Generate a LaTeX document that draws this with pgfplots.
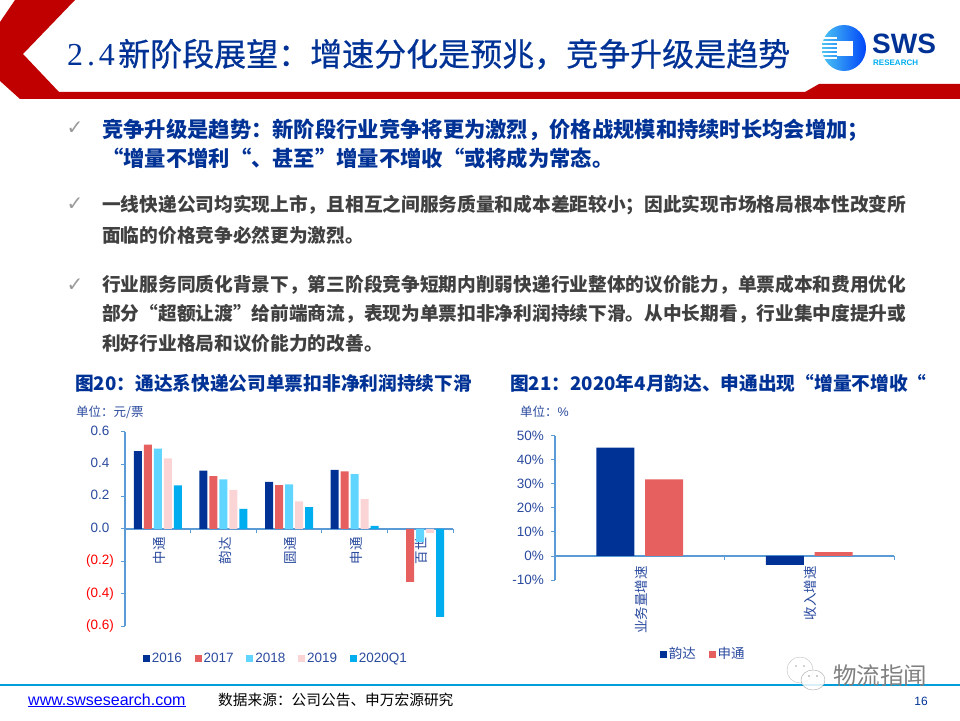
\documentclass[border=0pt]{standalone}
\usepackage{fontspec}
\usepackage{xcolor}
\usepackage{pgfplots}
\usepackage{pgfplotstable}
\usetikzlibrary{shadings}
\pgfplotsset{compat=1.18}
\setmainfont{Noto Sans CJK SC}
\newfontfamily\arial{Liberation Sans}
\newfontfamily\timesf[LetterSpace=12]{Liberation Serif}
\newfontfamily\titlef[FakeBold=0.6]{Noto Sans CJK SC}
\newfontfamily\dejavu{DejaVu Sans}
\definecolor{navy}{HTML}{003296}
\definecolor{redbar}{HTML}{E66060}
\definecolor{ltblue}{HTML}{5FD5FF}
\definecolor{pinkbar}{HTML}{FBD5D5}
\definecolor{cyanbar}{HTML}{00ADEF}
\definecolor{axisblue}{HTML}{5B9BD5}
\definecolor{ticktext}{HTML}{2A4A9E}
\definecolor{hdr}{HTML}{C00000}
\definecolor{foot}{HTML}{009FDB}
\definecolor{body}{HTML}{404040}

% unit net profit, yuan per parcel
\pgfplotstableread{
x a b c d e
0 0.48 0.52 0.495 0.435 0.268
1 0.36 0.325 0.305 0.24 0.124
2 0.29 0.27 0.274 0.17 0.134
3 0.365 0.355 0.338 0.183 0.019
4 nan -0.328 -0.08 -0.025 -0.544
}\unitprofit
\pgfplotstableread{
x a b
0 45 31.8
1 -3.7 1.6
}\growth

\newcommand{\fs}[1]{\fontsize{#1}{#1}\selectfont}
\pgfplotsset{
  slide/.style={
    scale only axis,
    anchor=south west,
    axis x line=middle,
    axis y line=left,
    axis line style={axisblue,line width=1.4pt,-},
    tick style={axisblue,line width=0.9pt},
    tick align=outside,
    major tick length=4pt,
    minor tick length=4pt,
    major x tick style={draw=none},
    tick label style={text=ticktext,font=\fs{13.5}},
    xticklabel style={rotate=90,anchor=east,inner sep=0pt,yshift=-1.5pt,xshift=-4pt},
    yticklabel style={inner sep=0pt,font=\arial\fs{13.5},xshift=-7pt},
    /pgf/number format/assume math mode=true,
    legend style={draw=none,fill=none,legend columns=-1,anchor=center,
      font=\fs{13.5},text=ticktext,inner sep=0pt,
      /tikz/every even column/.append style={column sep=10.7pt}},
    legend cell align=left,
    clip=false,
  },
  sq/.style={legend image code/.code={
    \fill[##1] (0pt,-3.5pt) rectangle (7pt,3.5pt);}},
}

\begin{document}
\begin{tikzpicture}[x=1pt,y=1pt]
\clip (0,0) rectangle (960,720);
\path[use as bounding box] (0,0) rectangle (960,720);
\begin{scope}[yshift=720pt,y=-1pt,every node/.style={inner sep=0pt}]
  % header band
  \fill[hdr] (15,0) -- (75,0) -- (23,54) -- (59,92) -- (805,92) -- (819,84)
    -- (960,84) -- (960,99) -- (20,99) -- (0,81) -- (0,22) -- cycle;
  \node[anchor=base west,text=navy] at (67,66) {\timesf\fs{32}2.4};
  \node[anchor=base west,text=navy] at (118,66) {\titlef\fs{32}新阶段展望：增速分化是预兆，竞争升级是趋势};
  % logo
  \shade[left color=cyanbar!70,right color=blue!60!cyanbar] (844,48) ellipse (22 and 23);
  \fill[white] (837,41) rectangle (853,56);
  \foreach \yy in {38,42,46,50,54,58}
    \draw[white,line width=1.2pt] (820,\yy) -- (837,\yy);
  \node[anchor=base west,text=navy] at (872,54) {\arial\bfseries\fs{28}SWS};
  \node[anchor=base west,text=cyanbar] at (873,66) {\arial\bfseries\fs{8}RESEARCH};
  % bullets
  \node[text=black!40] at (75,128) {\dejavu\fs{20}✓};
  \node[text=black!40] at (75,204) {\dejavu\fs{20}✓};
  \node[text=black!40] at (75,285) {\dejavu\fs{20}✓};
  \node[anchor=base west,text=navy] at (102,138) {\bfseries\fs{21.3}竞争升级是趋势：新阶段行业竞争将更为激烈，价格战规模和持续时长均会增加；};
  \node[anchor=base west,text=navy] at (102,167) {\bfseries\fs{21.3}“增量不增利“、甚至”增量不增收“或将成为常态。};
  \node[anchor=base west,text=body] at (102,212) {\bfseries\fs{18.7}一线快递公司均实现上市，且相互之间服务质量和成本差距较小；因此实现市场格局根本性改变所};
  \node[anchor=base west,text=body] at (102,243) {\bfseries\fs{18.7}面临的价格竞争必然更为激烈。};
  \node[anchor=base west,text=body] at (102,292) {\bfseries\fs{18.7}行业服务同质化背景下，第三阶段竞争短期内削弱快递行业整体的议价能力，单票成本和费用优化};
  \node[anchor=base west,text=body] at (102,321) {\bfseries\fs{18.7}部分“超额让渡”给前端商流，表现为单票扣非净利润持续下滑。从中长期看，行业集中度提升或};
  \node[anchor=base west,text=body] at (102,351) {\bfseries\fs{18.7}利好行业格局和议价能力的改善。};
  % chart titles
  \node[anchor=base west,text=navy] at (75,391) {\bfseries\fs{18.7}图20：通达系快递公司单票扣非净利润持续下滑};
  \node[anchor=base west,text=navy] at (510,391) {\bfseries\fs{18.7}图21：2020年4月韵达、申通出现“增量不增收“};
  \node[anchor=base west,text=ticktext] at (76,417) {\fs{12.5}单位：元/票};
  \node[anchor=base west,text=ticktext] at (520,417) {\fs{12.5}单位：\arial\%};
  % footer
  \draw[foot,line width=2.5pt] (0,685) -- (960,685);
  \node[anchor=base west,text=blue] at (28,705) {\arial\fs{16}\underline{www.swsesearch.com}};
  \node[anchor=base west,text=black] at (218,705) {\fs{14.7}数据来源：公司公告、申万宏源研究};
  \node[anchor=base east,text=navy] at (928,705) {\arial\fs{12}16};
  % watermark
  \draw[black!25,fill=white] (800,670) ellipse (13 and 13);
  \fill[black!35] (796,666) circle (0.9) (804,666) circle (0.9);
  \draw[black!35,fill=white,fill opacity=0.85] (813,680) ellipse (12 and 10);
  \fill[black!40] (809,676) circle (0.9) (817,676) circle (0.9);
  \node[anchor=base west,text=black!50] at (833,684) {\fs{23.5}物流指闻};
\end{scope}

\begin{axis}[slide,
  at={(125pt,94pt)},
  width=328pt,height=194.3pt,
  xmin=-0.5,xmax=4.5,ymin=-0.6,ymax=0.6,
  ybar=2pt,bar width=8pt,
  xtick={0,1,2,3,4},
  xticklabels={中通,韵达,圆通,申通,百世},
  minor xtick={-0.5,0.5,1.5,2.5,3.5,4.5},
  ytick={-0.6,-0.4,-0.2,0,0.2,0.4,0.6},
  yticklabels={\textcolor{red}{(0.6)},\textcolor{red}{(0.4)},\textcolor{red}{(0.2)},0.0\phantom{)},0.2\phantom{)},0.4\phantom{)},0.6\phantom{)}},
  legend style={at={(0.46,-0.165)},font=\arial\fs{13.5}},
]
\addplot[sq,fill=navy,draw=none] table[x=x,y=a] {\unitprofit};
\addplot[sq,fill=redbar,draw=none] table[x=x,y=b] {\unitprofit};
\addplot[sq,fill=ltblue,draw=none] table[x=x,y=c] {\unitprofit};
\addplot[sq,fill=pinkbar,draw=none] table[x=x,y=d] {\unitprofit};
\addplot[sq,fill=cyanbar,draw=none] table[x=x,y=e] {\unitprofit};
\legend{2016,2017,2018,2019,2020Q1}
\end{axis}

\begin{axis}[slide,
  at={(555pt,140pt)},
  width=339pt,height=144.3pt,
  xmin=-0.5,xmax=1.5,ymin=-10,ymax=50,
  ybar=10.7pt,bar width=38pt,
  xtick={0,1},
  xticklabels={业务量增速,收入增速},
  xticklabel style={xshift=-2pt},
  minor xtick={0.5,1.5},
  ytick={-10,0,10,20,30,40,50},
  yticklabels={-10\%,0\%,10\%,20\%,30\%,40\%,50\%},
  legend style={at={(0.437,-0.513)}},
]
\addplot[sq,fill=navy,draw=none] table[x=x,y=a] {\growth};
\addplot[sq,fill=redbar,draw=none] table[x=x,y=b] {\growth};
\legend{韵达,申通}
\end{axis}
\end{tikzpicture}
\end{document}
